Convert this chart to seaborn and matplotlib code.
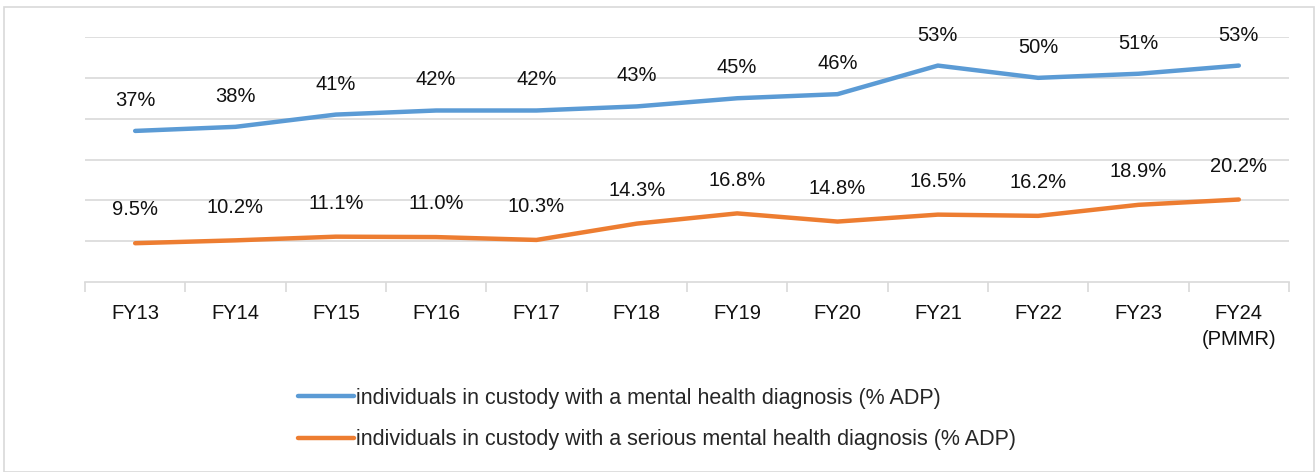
import numpy as np
import pandas as pd
import matplotlib.pyplot as plt
import seaborn as sns
from matplotlib.patches import Rectangle
from matplotlib.ticker import FixedLocator

years = ['FY13', 'FY14', 'FY15', 'FY16', 'FY17', 'FY18', 'FY19', 'FY20',
         'FY21', 'FY22', 'FY23', 'FY24\n(PMMR)']
mh_pct = [37, 38, 41, 42, 42, 43, 45, 46, 53, 50, 51, 53]
smi_pct = [9.5, 10.2, 11.1, 11.0, 10.3, 14.3, 16.8, 14.8, 16.5, 16.2, 18.9, 20.2]
mh_labels = [f'{v}%' for v in mh_pct]
smi_labels = [f'{v:.1f}%' for v in smi_pct]

s_mh = 'individuals in custody with a mental health diagnosis (% ADP)'
s_smi = 'individuals in custody with a serious mental health diagnosis (% ADP)'

df = pd.DataFrame({
    'year': years * 2,
    'pct': mh_pct + smi_pct,
    'series': [s_mh] * len(years) + [s_smi] * len(years),
})

sns.set_theme(style='white')
plt.rcParams['font.family'] = ['Liberation Sans', 'DejaVu Sans']

BLUE = '#5B9BD5'
ORANGE = '#ED7D31'
GRID = '#D9D9D9'
FS = 14.5

fig = plt.figure(figsize=(13.15, 4.72), dpi=100)
ax = fig.add_axes([85 / 1315, 1 - 282 / 472, (1289 - 85) / 1315, (282 - 37) / 472])

sns.lineplot(data=df, x='year', y='pct', hue='series', palette=[BLUE, ORANGE],
             linewidth=3.2, ax=ax, legend=False, sort=False)
for ln in ax.get_lines():
    ln.set_solid_capstyle('round')

ax.set_xlim(-0.5, len(years) - 0.5)
ax.set_ylim(0, 60)
ax.set_yticks(np.arange(10, 61, 10))
ax.yaxis.grid(True, color=GRID, linewidth=1.2)
ax.set_axisbelow(True)
ax.tick_params(axis='y', left=False, labelleft=False)
ax.set_xticks(range(len(years)))
ax.set_xticklabels(years, fontsize=FS, color='#111111', linespacing=1.45)
ax.tick_params(axis='x', which='major', length=0, pad=16)
ax.xaxis.set_minor_locator(FixedLocator(np.arange(-0.5, len(years), 1.0)))
ax.tick_params(axis='x', which='minor', length=7, width=1.2, color=GRID, bottom=True)
for side in ['top', 'right', 'left']:
    ax.spines[side].set_visible(False)
ax.spines['bottom'].set_color(GRID)
ax.spines['bottom'].set_linewidth(1.2)
ax.set_xlabel('')
ax.set_ylabel('')

for i, (v, t) in enumerate(zip(mh_pct, mh_labels)):
    ax.annotate(t, (i, v), xytext=(0, 22), textcoords='offset points',
                ha='center', va='center', fontsize=FS, color='#111111', annotation_clip=False)
for i, (v, t) in enumerate(zip(smi_pct, smi_labels)):
    ax.annotate(t, (i, v), xytext=(0, 24), textcoords='offset points',
                ha='center', va='center', fontsize=FS, color='#111111', annotation_clip=False)

handles = [plt.Line2D([], [], color=BLUE, linewidth=3.2, solid_capstyle='round'),
           plt.Line2D([], [], color=ORANGE, linewidth=3.2, solid_capstyle='round')]
fig.legend(handles, [s_mh, s_smi], loc='upper left', bbox_to_anchor=(298 / 1315, 1 - 388 / 472),
           frameon=False, fontsize=15.5, handlelength=2.6, handletextpad=0.1,
           labelspacing=0.95, borderaxespad=0, borderpad=0)

fig.patches.append(Rectangle((4 / 1315, 0), 1 - 5 / 1315, 1 - 7 / 472, transform=fig.transFigure,
                             fill=False, edgecolor=GRID, linewidth=1.2))

fig.savefig('out.png', dpi=100)
